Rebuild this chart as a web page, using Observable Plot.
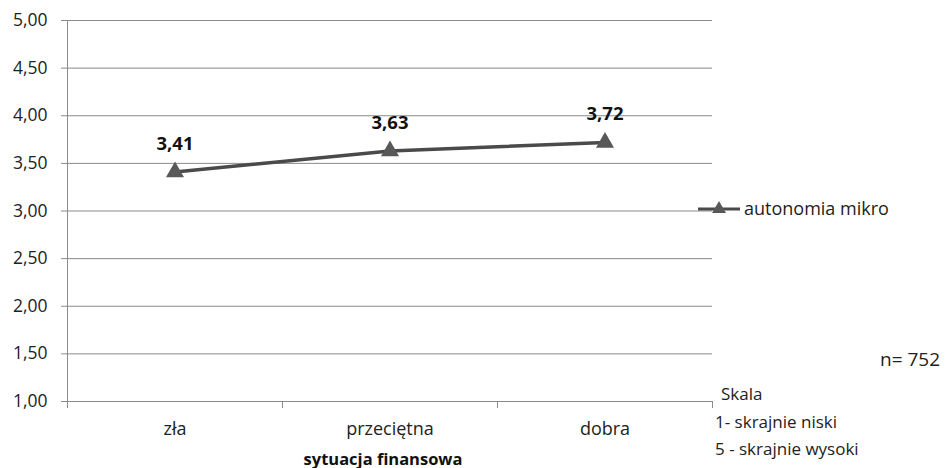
<!DOCTYPE html>
<html>
<head>
<meta charset="utf-8">
<script src="https://cdn.jsdelivr.net/npm/d3@7"></script>
<script src="https://cdn.jsdelivr.net/npm/@observablehq/plot@0.6"></script>
<style>
  html, body { margin: 0; padding: 0; background: #fff; }
  #wrap { position: relative; width: 948px; height: 468px; overflow: hidden; font-family: "Open Sans", sans-serif; color: #222; }
  #wrap svg { display: block; }
  .note { position: absolute; font-size: 17px; line-height: 1; white-space: nowrap; color: #222; }
</style>
</head>
<body>
<div id="wrap"></div>
<script>
// Category labels (financial situation) and mean scores of the series
const categories = ["zła", "przeciętna", "dobra"];
const values = [3.41, 3.63, 3.72];
const yTicks = [1, 1.5, 2, 2.5, 3, 3.5, 4, 4.5, 5];
const seriesName = "autonomia mikro";
const axisTitle = "sytuacja finansowa";
const sampleNote = "n= 752";
const scaleNotes = ["Skala", "1- skrajnie niski", "5 - skrajnie wysoki"];

const fmt = d => d3.format(".2f")(d).replace(".", ",");

// Each category occupies one unit of a linear x domain; points sit in the middle
const rows = categories.map((c, i) => ({pos: i + 0.5, value: values[i], label: fmt(values[i])}));
const bounds = d3.range(categories.length + 1);
const centers = categories.map((c, i) => i + 0.5);

const ink = "#8a8a8a";
const lineColor = "#4a4a4a";
const markColor = "#585858";

const chart = Plot.plot({
  width: 948,
  height: 468,
  marginLeft: 67,
  marginRight: 236,
  marginTop: 20,
  marginBottom: 67,
  style: {fontFamily: "Open Sans, sans-serif", fontSize: "17px", color: "#222", background: "#fff"},
  x: {domain: [0, categories.length]},
  y: {domain: [1, 5]},
  marks: [
    Plot.gridY(yTicks, {stroke: ink, strokeOpacity: 1, strokeWidth: 1}),
    Plot.ruleX([0], {stroke: ink, strokeWidth: 1}),
    Plot.axisY({ticks: yTicks, tickFormat: fmt, tickSize: 6, tickPadding: 14, stroke: ink, label: null, fontSize: 17.5, fill: "#222"}),
    Plot.axisX({ticks: bounds, tickFormat: () => "", tickSize: 7, stroke: ink, label: null}),
    Plot.axisX({ticks: centers, tickFormat: d => categories[Math.floor(d)], tickSize: 0, tickPadding: 21, label: null, fontSize: 18, fill: "#222"}),
    Plot.text([axisTitle], {frameAnchor: "bottom", dx: -7, dy: 63, fontWeight: "bold", fontSize: 16.5, fill: "#111"}),
    Plot.line(rows, {x: "pos", y: "value", stroke: lineColor, strokeWidth: 3.5}),
    Plot.dot(rows, {x: "pos", y: "value", symbol: "triangle", r: 6.7, fill: markColor, stroke: "none"}),
    Plot.text(rows, {x: "pos", y: "value", text: "label", dy: -28, fontWeight: "bold", fontSize: 18.5, fill: "#111"})
  ]
});

const wrap = document.getElementById("wrap");
wrap.appendChild(chart);

// Legend entry on the right
const legend = document.createElementNS("http://www.w3.org/2000/svg", "svg");
legend.setAttribute("width", 50);
legend.setAttribute("height", 20);
legend.style.position = "absolute";
legend.style.left = "694px";
legend.style.top = "199px";
const lg = d3.select(legend);
lg.append("line").attr("x1", 4).attr("x2", 46).attr("y1", 10).attr("y2", 10)
  .attr("stroke", lineColor).attr("stroke-width", 3.2);
lg.append("path").attr("d", d3.symbol(d3.symbolTriangle, 85)()).attr("transform", "translate(25,10)")
  .attr("fill", markColor);
wrap.appendChild(legend);

function note(text, left, top, size) {
  const el = document.createElement("div");
  el.className = "note";
  el.textContent = text;
  el.style.left = left + "px";
  el.style.top = top + "px";
  if (size) el.style.fontSize = size + "px";
  wrap.appendChild(el);
  return el;
}
note(seriesName, 744, 199, 18);
note(sampleNote, 880, 350, 19);
note(scaleNotes[0], 721, 385);
note(scaleNotes[1], 715, 413);
note(scaleNotes[2], 715, 440);
</script>
</body>
</html>
